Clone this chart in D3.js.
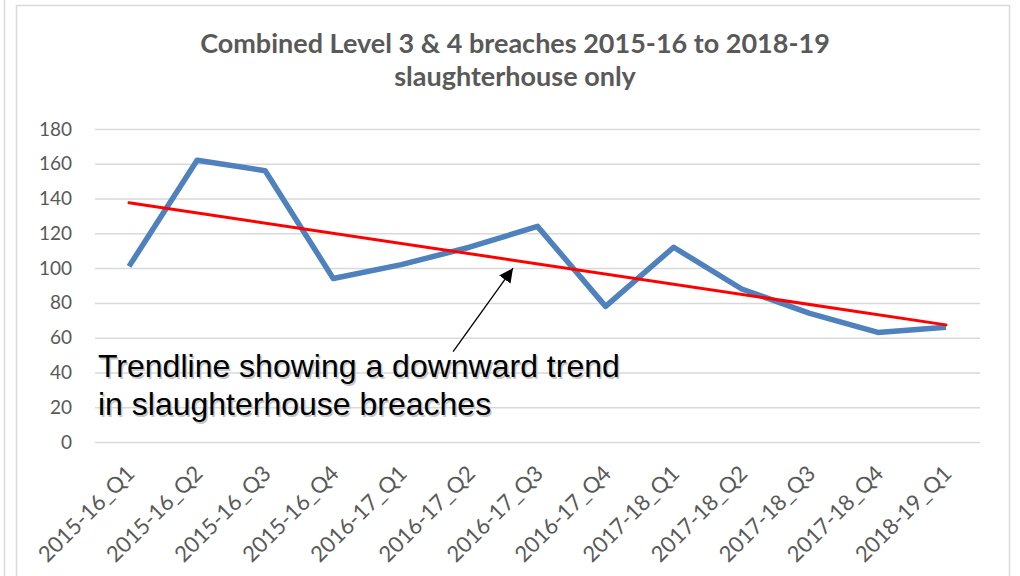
<!DOCTYPE html>
<html>
<head>
<meta charset="utf-8">
<script src="https://cdn.jsdelivr.net/npm/d3@7"></script>
<style>
  body { margin: 0; background: #fff; }
  svg { display: block; }
</style>
</head>
<body>
<div id="chart"></div>
<script>
// quarters on the x axis
var quarters = ["2015-16_Q1", "2015-16_Q2", "2015-16_Q3", "2015-16_Q4",
                "2016-17_Q1", "2016-17_Q2", "2016-17_Q3", "2016-17_Q4",
                "2017-18_Q1", "2017-18_Q2", "2017-18_Q3", "2017-18_Q4",
                "2018-19_Q1"];
// combined level 3 & 4 breaches, slaughterhouse only
var breaches = [101, 162, 156, 94, 102, 112, 124, 78, 112, 88, 74, 63, 66];
var yTicks = [0, 20, 40, 60, 80, 100, 120, 140, 160, 180];
var titleLines = ["Combined Level 3 & 4 breaches 2015-16 to 2018-19", "slaughterhouse only"];
var noteLines = ["Trendline showing a downward trend", "in slaughterhouse breaches"];

var width = 1020, height = 576;
var plot = {left: 95, right: 980, top: 129, bottom: 442};
var labelFont = "Lato, 'Open Sans', sans-serif";

var svg = d3.select("#chart").append("svg")
    .attr("width", width).attr("height", height);

// page / chart frame
svg.append("line").attr("x1", 4.5).attr("x2", 4.5).attr("y1", 0).attr("y2", height)
    .attr("stroke", "#d9d9d9").attr("stroke-width", 1.5);
svg.append("path").attr("d", "M16.5," + height + "V5.5H1009.5V" + height)
    .attr("fill", "none").attr("stroke", "#d9d9d9").attr("stroke-width", 1.5);

var x = d3.scaleBand().domain(quarters).range([plot.left, plot.right]);
var y = d3.scaleLinear().domain([0, 180]).range([plot.bottom, plot.top]);
var cx = function(i) { return x(quarters[i]) + x.bandwidth() / 2; };

// gridlines + y labels
var yAxis = svg.append("g").attr("transform", "translate(" + plot.left + ",0)")
    .call(d3.axisLeft(y).tickValues(yTicks).tickSize(-(plot.right - plot.left)).tickPadding(23));
yAxis.select(".domain").remove();
yAxis.selectAll(".tick line").attr("stroke", "#d9d9d9").attr("stroke-width", 1.5);
yAxis.selectAll(".tick text").attr("fill", "#595959")
    .style("font-family", labelFont).style("font-size", "19px");

// x labels, rotated
var xAxis = svg.append("g").attr("transform", "translate(0," + plot.bottom + ")")
    .call(d3.axisBottom(x).tickSize(0).tickPadding(0));
xAxis.select(".domain").remove();
xAxis.selectAll(".tick text")
    .attr("fill", "#595959")
    .style("font-family", labelFont).style("font-size", "22px")
    .attr("text-anchor", "end")
    .attr("y", 0)
    .attr("dy", 0)
    .attr("transform", "translate(7,33) rotate(-45)");

// linear trendline (least squares, like Excel)
var n = breaches.length;
var mx = d3.mean(breaches, function(d, i) { return i; });
var my = d3.mean(breaches);
var sxy = d3.sum(breaches, function(d, i) { return (i - mx) * (d - my); });
var sxx = d3.sum(breaches, function(d, i) { return (i - mx) * (i - mx); });
var slope = sxy / sxx, intercept = my - slope * mx;
var trend = function(i) { return intercept + slope * i; };

var line = d3.line()
    .x(function(d, i) { return cx(i); })
    .y(function(d) { return y(d); });

svg.append("path").datum(breaches)
    .attr("d", line)
    .attr("fill", "none")
    .attr("stroke", "#4f81bd")
    .attr("stroke-width", 5.5)
    .attr("stroke-linejoin", "round");

svg.append("line")
    .attr("x1", cx(0)).attr("y1", y(trend(0)))
    .attr("x2", cx(n - 1)).attr("y2", y(trend(n - 1)))
    .attr("stroke", "#ff0000").attr("stroke-width", 3)
    .attr("stroke-linecap", "round");

// title
svg.append("g").selectAll("text").data(titleLines).enter().append("text")
    .attr("x", 515)
    .attr("y", function(d, i) { return 53 + i * 33; })
    .attr("text-anchor", "middle")
    .attr("fill", "#595959")
    .style("font-family", labelFont)
    .style("font-size", "27px").style("font-weight", "bold")
    .text(function(d) { return d; });

// annotation with a soft shadow
var note = svg.append("g");
[["#c8c8c8", 1.5], ["#000", 0]].forEach(function(s) {
    note.append("g").selectAll("text").data(noteLines).enter().append("text")
        .attr("x", 98 + s[1])
        .attr("y", function(d, i) { return 377 + i * 38 + s[1]; })
        .attr("fill", s[0])
        .style("font-family", "'Liberation Sans', Arial, sans-serif")
        .style("font-size", "32px")
        .text(function(d) { return d; });
});

// arrow from the note to the trendline
svg.append("defs").append("marker")
    .attr("id", "head").attr("viewBox", "0 0 10 10")
    .attr("refX", 10).attr("refY", 5)
    .attr("markerWidth", 14).attr("markerHeight", 14)
    .attr("markerUnits", "userSpaceOnUse")
    .attr("orient", "auto")
    .append("path").attr("d", "M0,0L10,5L0,10z").attr("fill", "#000");

var tipI = 5.64;
svg.append("line")
    .attr("x1", x(quarters[4]) + x.bandwidth() * 1.26).attr("y1", y(52))
    .attr("x2", cx(0) + tipI * x.bandwidth()).attr("y2", y(trend(tipI)) + 8)
    .attr("stroke", "#000").attr("stroke-width", 1.3)
    .attr("marker-end", "url(#head)");
</script>
</body>
</html>
